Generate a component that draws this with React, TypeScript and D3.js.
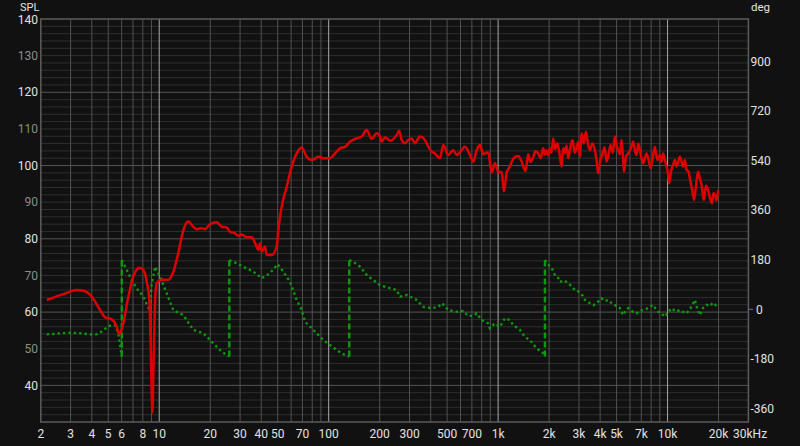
import React from "react";
import * as d3 from "d3";

const SPL_FREQ = [2.17,2.72,3.26,3.57,4.0,4.47,4.79,5.25,5.56,5.82,6.14,6.57,7.03,7.63,8.06,8.44,8.74,8.89,9.11,9.32,9.48,9.66,10.35,11.32,12.11,12.96,13.88,14.85,15.89,16.64,17.81,18.63,19.94,21.84,23.37,25.01,26.16,28.0,29.29,30.66,32.83,35.13,36.75,38.43,39.33,40.24,42.1,43.08,46.1,49.35,50.44,52.82,56.53,60.49,64.74,69.29,74.17,79.37,86.8,92.9,101.8,109,116.6,124.8,133.6,146.3,156.6,167.6,179.4,192,200.8,205.5,214.9,230,251.9,260.9,269.5,281.9,294.8,308.8,322.9,345.6,370,386.9,405.2,423.7,453.6,474.4,507.7,543.5,569.2,609.1,637,681.9,713.2,746.9,781.1,816.9,874.3,915.6,957.5,1001,1049,1082,1122,1174,1228,1314,1376,1453,1505,1550,1611,1665,1725,1785,1846,1890,1932,1975,2021,2065,2114,2170,2233,2300,2369,2420,2478,2535,2592,2670,2751,2830,2905,2970,3038,3070,3109,3200,3296,3390,3480,3600,3725,3810,3896,4010,4135,4250,4367,4490,4609,4750,4890,5000,5114,5230,5355,5440,5525,5690,5857,6060,6269,6420,6565,6710,6867,7020,7181,7350,7519,7730,7937,8170,8415,8700,9007,9200,9420,9640,9865,10050,10220,10500,10790,11050,11300,11560,11820,12100,12360,12650,12950,13250,13540,13950,14360,14750,15150,15500,15870,16100,16370,16850,17360,17850,18330,18650,19010,19450,19890];
const SPL_DB = [63.3,64.9,66.0,65.8,64.2,60.6,58.6,58.0,56.5,54.0,57.0,64.2,69.7,72.1,71.5,68.3,63.3,52.4,32.5,52.4,64.2,67.9,68.8,68.8,71.0,76.1,82.4,84.7,83.3,82.6,82.9,82.6,84.0,84.5,83.3,83.1,81.9,81.5,80.8,81.2,80.4,80.4,78.9,77.0,78.8,76.5,77.9,75.6,75.6,77.9,82.4,88.8,94.2,99.7,103.3,104.9,102.4,101.5,102.4,102.0,102.0,103.3,104.7,105.1,106.5,107.4,107.9,109.7,107.3,108.8,107.9,106.5,107.7,106.8,108.3,109.5,107.0,106.1,107.0,107.4,106.1,107.9,107.0,105.2,103.8,103.3,102.0,105.6,102.9,104.2,102.9,104.2,105.1,102.9,101.1,104.2,105.6,103.1,103.6,98.1,100.6,98.3,98.2,92.9,98.0,99.7,101.9,102.6,101.1,98.5,103.1,101.0,102.3,104.0,103.3,102.0,104.7,103.0,104.2,102.8,104.7,103.5,107.4,104.5,106.1,103.5,99.7,104.8,103.3,105.5,102.0,105.0,107.0,103.5,104.7,106.5,102.4,105.5,108.8,106.0,109.2,106.0,104.2,106.0,104.2,101.5,97.9,101.5,103.3,105.0,101.1,103.0,105.6,103.5,107.9,105.5,104.2,103.0,107.0,103.5,98.3,102.5,103.3,104.5,106.5,104.0,102.9,106.0,104.2,102.0,100.6,102.0,103.3,101.5,99.3,102.0,105.1,101.5,102.9,101.0,103.3,101.5,99.7,98.0,95.2,98.5,100.2,101.5,99.7,101.0,102.4,101.0,99.7,101.5,98.8,98.5,96.5,93.5,90.6,95.0,98.3,96.5,94.7,92.5,90.6,94.5,93.3,91.0,89.7,92.5,92.0,90.5,93.3];

const PHASE_FREQ = [2.17,2.53,2.98,3.41,4.18,4.58,5.01,5.48,5.74,6.01,6.01,6.43,6.88,7.37,8.06,8.51,8.77,9.01,9.45,10.11,11.07,12.11,13.88,15.89,18.2,20.86,23.37,25.92,25.92,27.37,31.34,35.93,40.24,45.06,50.03,53.98,59.11,64.74,69.29,72.47,77.57,84.98,92.9,101.8,111.5,121.9,132.3,132.3,139.7,153,167.6,183.3,200.8,219.9,251.9,263.4,288.5,330.4,361.5,405.2,443.3,468,507.7,569.2,622.5,666.4,713.2,746.9,799.4,874.3,894.6,957.5,1025,1097,1174,1228,1345,1439,1540,1688,1846,1889,1889,2021,2090,2164,2240,2316,2450,2592,2700,2839,2940,3038,3150,3252,3360,3480,3650,3812,3950,4080,4270,4463,4620,4778,5000,5233,5350,5472,5650,5857,6200,6565,6870,7181,7700,8222,8500,8800,9200,9641,10100,10560,11200,11820,12400,12950,13700,14500,15000,15510,16200,16990,17800,18580,19200,19890];
const PHASE_DEG = [-91,-88,-85,-87,-93,-81,-61,-57,-87,-172,179,143,106,76,46,12,-3,88,155,119,58,-3,-21,-75,-87,-124,-154,-172,179,173,155,137,113,131,164,137,100,34,-3,-45,-63,-87,-112,-130,-148,-163,-172,179,173,155,125,106,88,80,70,46,52,34,9,4,9,22,-3,-9,-6,-24,-24,-15,-39,-51,-69,-51,-63,-33,-39,-57,-75,-100,-112,-142,-160,-172,179,155,145,125,120,100,105,95,85,70,68,58,50,34,30,22,15,22,32,40,30,34,25,22,10,4,-10,-21,-5,4,-8,-15,-5,-3,5,16,2,-9,-15,-27,-10,4,-8,-3,-10,-15,5,34,0,-21,5,16,12,24,15,19];

const FREQ_TICKS = [2,3,4,5,6,8,10,20,30,40,50,70,100,200,300,500,700,1000,2000,3000,4000,5000,7000,10000,20000];
const FREQ_LABELS = ["2","3","4","5","6","8","10","20","30","40","50","70","100","200","300","500","700","1k","2k","3k","4k","5k","7k","10k","20k"];
const SPL_TICKS = [40,50,60,70,80,90,100,110,120,130,140];
const PHASE_TICKS = [-360,-180,0,180,360,540,720,900];

const W = 800, H = 446;
const L = 40.8, R = 748.4, T = 19, B = 422;
const FONT = "Roboto, 'Open Sans', sans-serif";

export default function App() {
  const x = d3.scaleLog().domain([2, 30000]).range([L, R]);
  const y = d3.scaleLinear().domain([30, 140]).range([B, T]);
  const yp = d3.scaleLinear().domain([-409.8, 1055.6]).range([B, T]);

  const vgrid: { f: number; major: boolean }[] = [];
  for (let dec = 1; dec <= 10000; dec *= 10) {
    for (let m = 1; m <= 9; m++) {
      const f = dec * m;
      if (f > 2 && f < 30000) vgrid.push({ f, major: m === 1 });
    }
  }
  const hgrid: number[] = d3.range(32, 140, 2);

  const splPts: [number, number][] = SPL_FREQ.map((f, i) => [x(f), y(SPL_DB[i])]);
  const splLine = d3.line().curve(d3.curveMonotoneX)(splPts) || "";

  const segs: [number, number][][] = [];
  const jumps: [number, number, number][] = [];
  let cur: [number, number][] = [];
  PHASE_FREQ.forEach((f, i) => {
    if (i > 0 && Math.abs(PHASE_DEG[i] - PHASE_DEG[i - 1]) > 200) {
      segs.push(cur);
      jumps.push([x(f), yp(PHASE_DEG[i - 1]), yp(PHASE_DEG[i])]);
      cur = [];
    }
    cur.push([x(f), yp(PHASE_DEG[i])]);
  });
  segs.push(cur);
  const lineGen = d3.line();

  return (
    <svg width={W} height={H} style={{ position: "absolute", left: 0, top: 0, display: "block" }}>
      <rect x={0} y={0} width={W} height={H} fill="#111111" />
      {hgrid.map((v) => (
        <line key={"h" + v} x1={L} x2={R} y1={y(v)} y2={y(v)}
          stroke={v % 20 === 0 ? "#555555" : "#2e2e2e"} strokeWidth={1} />
      ))}
      {vgrid.map((g) => (
        <line key={"v" + g.f} x1={x(g.f)} x2={x(g.f)} y1={T} y2={B}
          stroke={g.major ? "#a8a8a8" : "#505050"} strokeWidth={1} />
      ))}
      <rect x={L} y={T} width={R - L} height={B - T} fill="none" stroke="#5c5c5c" strokeWidth={1.5} />
      {SPL_TICKS.map((v) => (
        <text key={"s" + v} x={38} y={y(v) + (v === 140 ? 1 : 0)} dy="0.35em" textAnchor="end" fontFamily={FONT}
          fontSize={12} fill={v % 20 === 0 ? "#e2e2e2" : "#8c8c8c"}>{v}</text>
      ))}
      {PHASE_TICKS.map((v) => (
        <text key={"p" + v} x={v === 0 ? 756 : 750.5} y={yp(v)} dy="0.35em" textAnchor="start"
          fontFamily={FONT} fontSize={12} fill="#e2e2e2">{v}</text>
      ))}
      <line x1={748.5} x2={753} y1={yp(0)} y2={yp(0)} stroke="#5577aa" strokeWidth={1} />
      {FREQ_TICKS.map((f, i) => (
        <text key={"f" + f} x={x(f)} y={434} dy="0.35em" textAnchor="middle" fontFamily={FONT}
          fontSize={12} fill="#e2e2e2">{FREQ_LABELS[i]}</text>
      ))}
      <text x={733} y={434} dy="0.35em" textAnchor="start" fontFamily={FONT} fontSize={12} fill="#e2e2e2">30kHz</text>
      <text x={20} y={10.6} fontFamily={FONT} fontSize={11} fill="#e2e2e2">SPL</text>
      <text x={751} y={11} fontFamily={FONT} fontSize={11.5} fill="#e2e2e2">deg</text>

      {segs.map((s, i) => (
        <path key={"g" + i} d={lineGen(s) || ""} fill="none" stroke="#0b9a0b" strokeWidth={2.4}
          strokeDasharray="2.4,3" />
      ))}
      {jumps.map((j, i) => (
        <line key={"j" + i} x1={j[0]} x2={j[0]} y1={j[1]} y2={j[2]} stroke="#0b9a0b" strokeWidth={2.4}
          strokeDasharray="6,3" />
      ))}
      <path d={splLine} fill="none" stroke="#dd0000" strokeWidth={2.5} strokeLinejoin="round" />
    </svg>
  );
}
